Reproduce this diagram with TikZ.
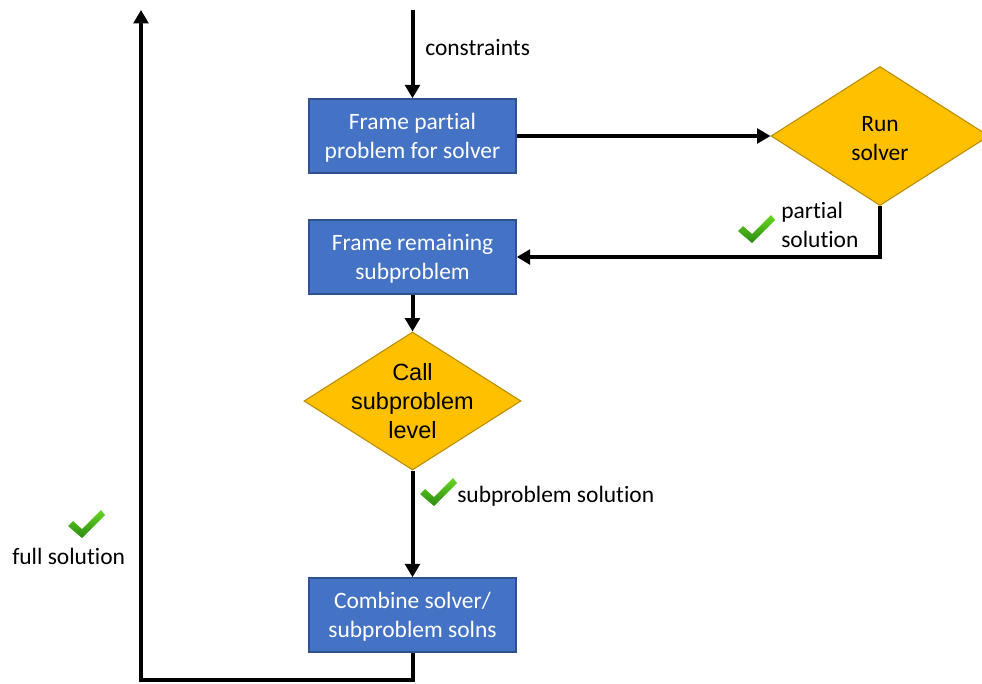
\documentclass[tikz,border=0pt]{standalone}
\usepackage{fontspec}
\setmainfont{Carlito}[RawFeature={-liga}]
\newfontfamily\arialfont{Liberation Sans}
\usetikzlibrary{arrows.meta,shapes.geometric}
\definecolor{boxblue}{HTML}{4472C4}
\definecolor{boxedge}{HTML}{2F528F}
\definecolor{gold}{HTML}{FFC000}
\definecolor{goldedge}{HTML}{BC8C00}
\definecolor{chklight}{HTML}{66D81F}
\definecolor{chkdark}{HTML}{2A8A12}

\begin{document}
\begin{tikzpicture}[x=0.75pt,y=-0.75pt,
  every node/.style={font=\fontsize{17.6}{21.75}\selectfont},
  stepbox/.style={draw=boxedge,line width=1.1pt,fill=boxblue,text=white,
    minimum width=155.25pt,minimum height=55.5pt,align=center,inner sep=0pt,
    text depth=0pt},
  decide/.style={diamond,draw=goldedge,line width=0.8pt,fill=gold,inner sep=0pt},
  flow/.style={line width=3pt,-{Triangle[length=10pt,width=11pt]}},
  lbl/.style={anchor=west,align=left,inner sep=0pt},
  tick/.pic={\shade[top color=chklight,bottom color=chkdark]
    (0,0) -- (-14,-12) -- (-9,-17) -- (0,-9) -- (19,-28) -- (23,-23) -- cycle;}
]
\useasboundingbox (0,0) rectangle (982,683);

% process boxes
\node[stepbox] (frame)   at (412.5,136) {Frame partial\\problem for solver};
\node[stepbox] (remain)  at (412.5,257) {Frame remaining\\subproblem};
\node[stepbox] (combine) at (412.5,615) {Combine solver/\\subproblem solns};

% decision diamonds (drawn empty, text placed on top)
\node[decide,minimum width=163.5pt,minimum height=104.25pt] (run) at (880,136) {};
\node[align=center,inner sep=0pt] (runtxt) at ([yshift=-2pt]run.center) {Run\\solver};
\node[decide,minimum width=162.75pt,minimum height=103.5pt] (call) at (412.5,401) {};
\node[align=center,inner sep=0pt,font=\arialfont\fontsize{17.6}{21.5}\selectfont]
  (calltxt) at (call.center) {Call\\subproblem\\level};

% free ends and corner of the return line
\coordinate (cin) at (412.5,10);
\coordinate (fullend) at (141,10);
\coordinate (corner) at (141,680);

% connectors
\draw[flow] (cin) -- (frame.north);
\draw[flow] (frame.east) -- (run.west);
\draw[flow] (run.south) |- (remain.east);
\draw[flow] (remain.south) -- (call.north);
\draw[flow] (call.south) -- (combine.north);
\draw[flow] (combine.south) |- (corner) -- (fullend);

% labels
\node[lbl] (lcons) at (425,48) {constraints};
\node[lbl] (lpart) at (781,225) {partial\\solution};
\node[lbl] (lsub)  at (457,496) {subproblem solution};
\node[lbl] (lfull) at (12,556) {full solution};

% check marks
\pic at (752,243) {tick};
\pic at (434,506) {tick};
\pic at (82,538) {tick};
\end{tikzpicture}
\end{document}
